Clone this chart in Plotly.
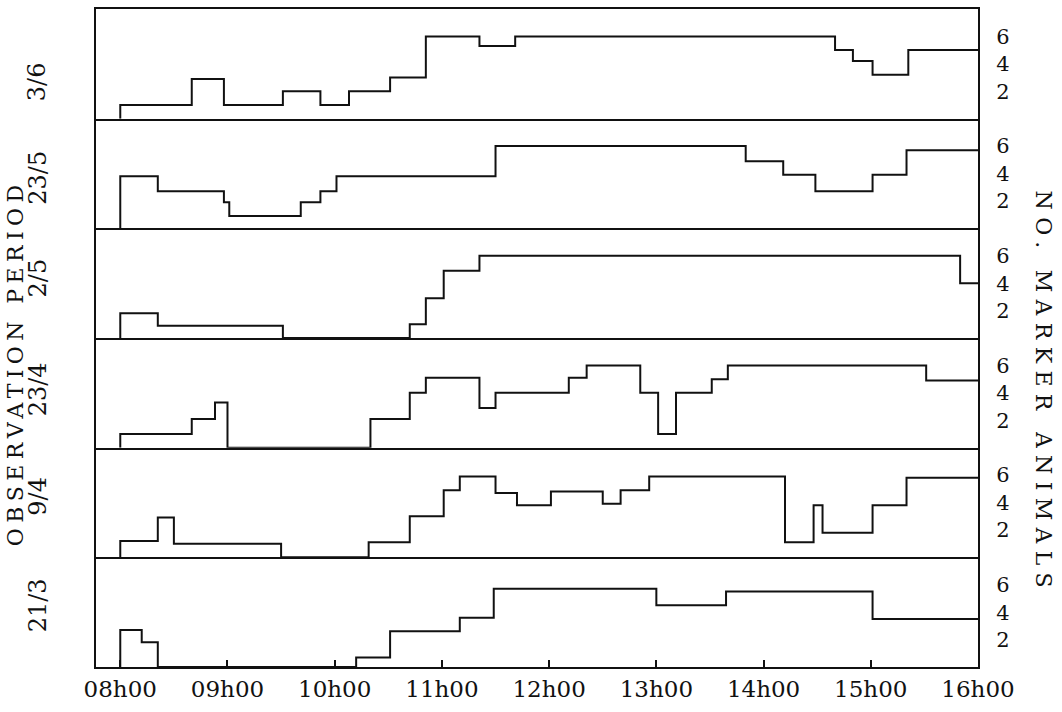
import plotly.graph_objects as go
from plotly.subplots import make_subplots

# Observation days, top to bottom
days = ["3/6", "23/5", "2/5", "23/4", "9/4", "21/3"]

# For each day: clock time at which the count changes, and the count from then on
times_3_6 = ["08:00", "08:40", "08:58", "09:31", "09:52", "10:08", "10:31", "10:51",
             "11:21", "11:41", "14:40", "14:50", "15:01", "15:21"]
counts_3_6 = [1.0, 2.9, 1.0, 2.0, 1.0, 2.0, 3.0, 6.0, 5.3, 6.0, 5.0, 4.2, 3.2, 5.0]

times_23_5 = ["08:00", "08:21", "08:58", "09:01", "09:41", "09:52", "10:01", "11:30",
              "13:50", "14:11", "14:29", "15:01", "15:20"]
counts_23_5 = [3.8, 2.7, 1.9, 0.9, 1.9, 2.7, 3.8, 6.0, 4.9, 3.9, 2.7, 3.9, 5.7]

times_2_5 = ["08:00", "08:21", "09:31", "10:42", "10:51", "11:01", "11:21", "15:50"]
counts_2_5 = [1.8, 0.9, 0.0, 1.0, 2.9, 4.9, 6.0, 4.0]

times_23_4 = ["08:00", "08:40", "08:53", "09:00", "10:20", "10:42", "10:51", "11:21",
              "11:30", "12:11", "12:21", "12:51", "13:01", "13:11", "13:31", "13:40",
              "15:31"]
counts_23_4 = [1.0, 2.1, 3.3, 0.0, 2.1, 4.0, 5.1, 2.9, 4.0, 5.1, 6.0, 4.0, 1.0, 4.0,
               5.0, 6.0, 4.9]

times_9_4 = ["08:00", "08:21", "08:30", "09:30", "10:19", "10:42", "11:01", "11:10",
             "11:30", "11:42", "12:01", "12:30", "12:40", "12:56", "14:12", "14:28",
             "14:33", "15:01", "15:20"]
counts_9_4 = [1.2, 2.9, 1.0, 0.0, 1.1, 3.0, 4.9, 5.9, 4.7, 3.8, 4.8, 3.9, 4.9, 5.9,
              1.1, 3.8, 1.8, 3.8, 5.8]

times_21_3 = ["08:00", "08:12", "08:21", "10:12", "10:31", "11:10", "11:29", "13:00",
              "13:39", "15:01"]
counts_21_3 = [2.7, 1.8, 0.0, 0.7, 2.6, 3.6, 5.7, 4.5, 5.5, 3.5]

series = [
    (times_3_6, counts_3_6),
    (times_23_5, counts_23_5),
    (times_2_5, counts_2_5),
    (times_23_4, counts_23_4),
    (times_9_4, counts_9_4),
    (times_21_3, counts_21_3),
]

# vertical placement of each day label inside its panel (fraction of panel height)
day_label_pos = [0.34, 0.46, 0.55, 0.53, 0.56, 0.56]

day0 = "2000-01-01 "
x_start = day0 + "07:46:25"
x_end = day0 + "16:00"
y_ticks = [2, 4, 6]

FONT = "DejaVu Serif"
INK = "#111111"

fig = make_subplots(rows=6, cols=1, shared_xaxes=True, vertical_spacing=0)

for k, (t, c) in enumerate(series, start=1):
    # counts rise from zero at the first observation and hold until the end of the day
    xs = [day0 + t[0]] + [day0 + s for s in t] + [x_end]
    ys = [0.0] + list(c) + [c[-1]]
    fig.add_trace(
        go.Scatter(x=xs, y=ys, mode="lines", line=dict(shape="hv", color=INK, width=2),
                   showlegend=False, hoverinfo="skip"),
        row=k, col=1,
    )
    fig.update_yaxes(
        range=[0, 8], tickvals=y_ticks, side="right", ticks="",
        showline=True, mirror=True, linecolor=INK, linewidth=2,
        showgrid=False, zeroline=False, ticklabelstandoff=12,
        tickfont=dict(family=FONT, size=21, color=INK),
        row=k, col=1,
    )
    fig.update_xaxes(
        type="date", range=[x_start, x_end],
        showline=True, mirror=(k == 1), linecolor=INK, linewidth=2,
        showgrid=False, zeroline=False,
        showticklabels=(k == 6), ticks=("inside" if k == 6 else ""),
        ticklen=7, tickwidth=1.5, tickcolor=INK,
        tick0=day0 + "08:00", dtick=3600000, tickformat="%Hh%M",
        tickfont=dict(family=FONT, size=23, color=INK),
        row=k, col=1,
    )
    yname = "y" if k == 1 else f"y{k}"
    fig.add_annotation(
        text=days[k - 1], xref="paper", yref=f"{yname} domain",
        x=-0.066, y=day_label_pos[k - 1], xanchor="center", yanchor="middle",
        textangle=-90, showarrow=False,
        font=dict(family=FONT, size=24, color=INK),
    )

fig.add_annotation(
    text='<span style="letter-spacing:5.4px">OBSERVATION PERIOD</span>',
    xref="paper", yref="paper",
    x=-0.0915, y=0.462, xanchor="center", yanchor="middle",
    textangle=-90, showarrow=False,
    font=dict(family=FONT, size=22, color=INK),
)
fig.add_annotation(
    text='<span style="letter-spacing:7.3px">NO. MARKER ANIMALS</span>',
    xref="paper", yref="paper",
    x=1.0737, y=0.417, xanchor="center", yanchor="middle",
    textangle=90, showarrow=False,
    font=dict(family=FONT, size=22, color=INK),
)

fig.update_layout(
    width=1062, height=712,
    margin=dict(l=96, r=84, t=7, b=45),
    paper_bgcolor="white", plot_bgcolor="white",
    showlegend=False,
)

fig.write_html("out.html")
